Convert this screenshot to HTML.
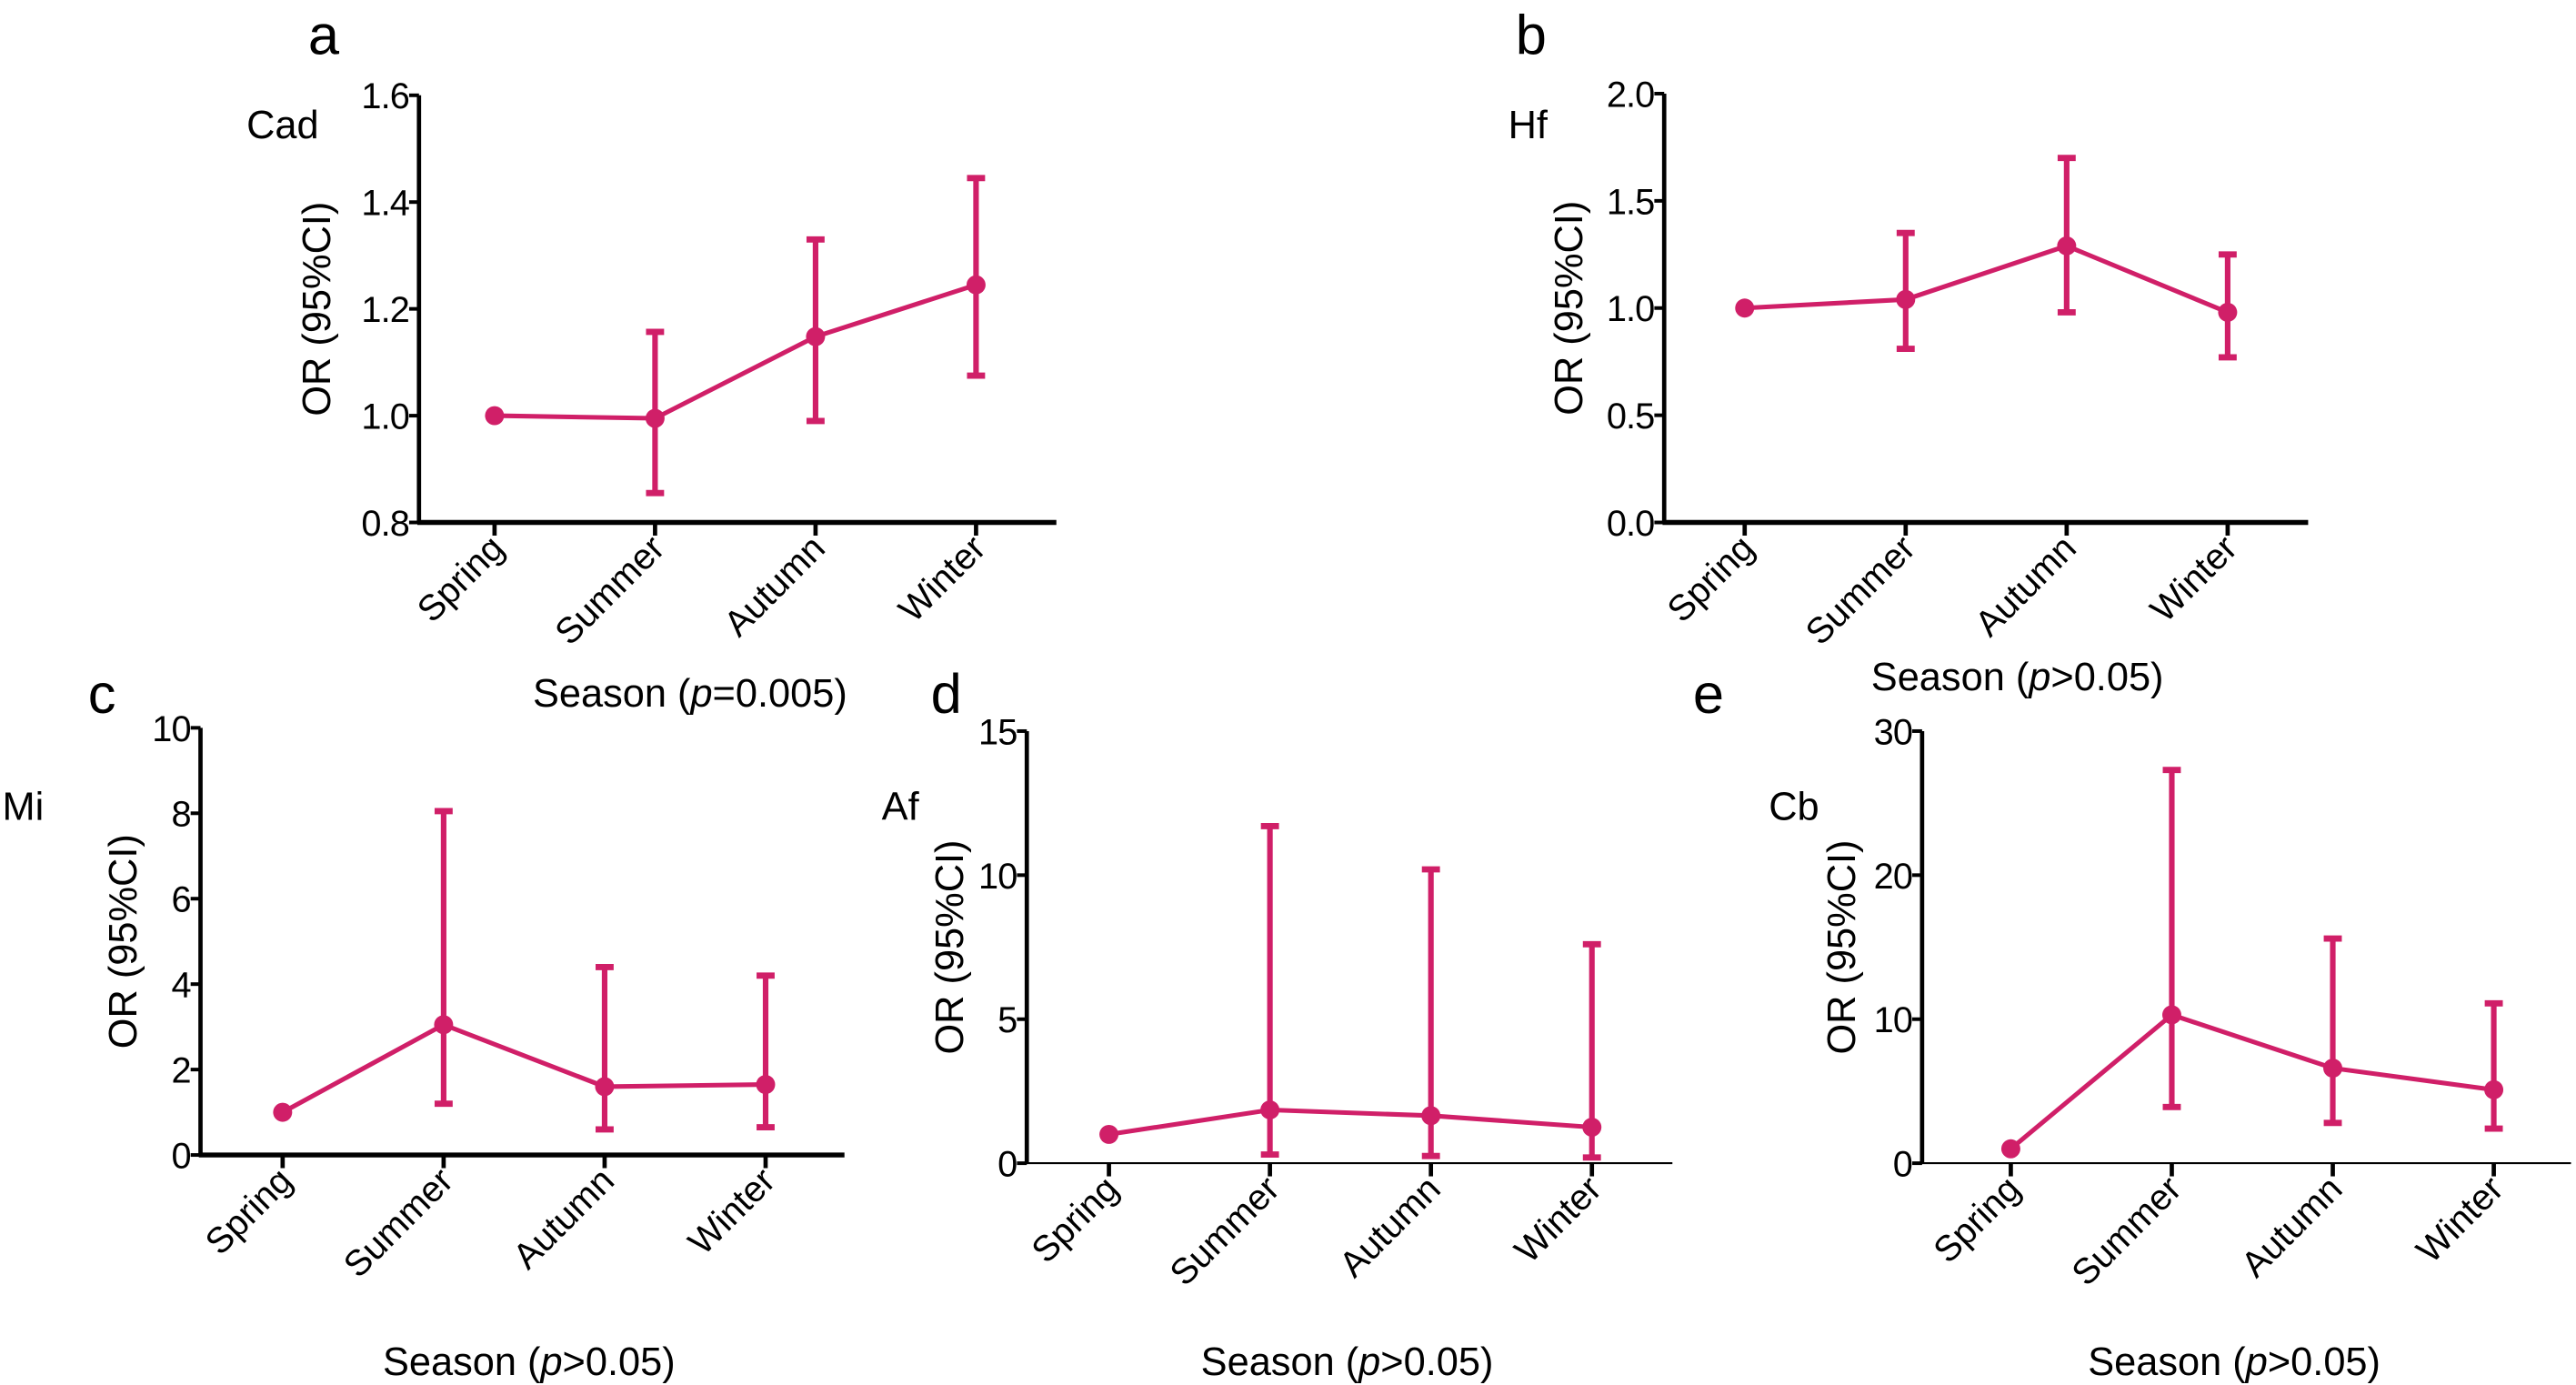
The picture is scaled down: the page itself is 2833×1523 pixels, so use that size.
<!DOCTYPE html>
<html><head><meta charset="utf-8"><style>
html,body{margin:0;padding:0;background:#fff}
svg{display:block}
text{font-family:"Liberation Sans",sans-serif;fill:#000}
</style></head><body>
<svg id="fig" width="2833" height="1523" viewBox="0 0 1568 843" xmlns="http://www.w3.org/2000/svg"></svg>
<script>
const categories = ["Spring","Summer","Autumn","Winter"];
const aVals = [1.0, 0.995, 1.148, 1.245];
const aLo = [1.0, 0.855, 0.99, 1.075];
const aHi = [1.0, 1.157, 1.33, 1.445];
const aTicks = [0.8, 1.0, 1.2, 1.4, 1.6];
const aTickLabels = ["0.8","1.0","1.2","1.4","1.6"];
const bVals = [1.0, 1.04, 1.29, 0.98];
const bLo = [1.0, 0.81, 0.98, 0.77];
const bHi = [1.0, 1.35, 1.70, 1.25];
const bTicks = [0, 0.5, 1.0, 1.5, 2.0];
const bTickLabels = ["0.0","0.5","1.0","1.5","2.0"];
const cVals = [1.0, 3.05, 1.6, 1.65];
const cLo = [1.0, 1.2, 0.6, 0.65];
const cHi = [1.0, 8.05, 4.4, 4.2];
const cTicks = [0, 2, 4, 6, 8, 10];
const cTickLabels = ["0","2","4","6","8","10"];
const dVals = [1.0, 1.85, 1.65, 1.25];
const dLo = [1.0, 0.3, 0.25, 0.2];
const dHi = [1.0, 11.7, 10.2, 7.6];
const dTicks = [0, 5, 10, 15];
const dTickLabels = ["0","5","10","15"];
const eVals = [1.0, 10.3, 6.6, 5.1];
const eLo = [1.0, 3.9, 2.8, 2.4];
const eHi = [1.0, 27.3, 15.6, 11.1];
const eTicks = [0, 10, 20, 30];
const eTickLabels = ["0","10","20","30"];

const NS = "http://www.w3.org/2000/svg";
const svg = document.getElementById("fig");
const COL = "#d01f68";
function mk(tag, attrs, parent, txt){
  const e = document.createElementNS(NS, tag);
  for (const k in attrs) e.setAttribute(k, attrs[k]);
  if (txt !== undefined) e.textContent = txt;
  (parent||svg).appendChild(e);
  return e;
}
function panel(p){
  const g = mk("g", {});
  
  
  const ymin = p.ticks[0], ymax = p.ticks[p.ticks.length-1];
  const yS = v => p.y0 - (v - ymin) / (ymax - ymin) * (p.y0 - p.y1);
  const xS = i => p.cx0 + i * p.dx;
  const ya = mk("line", {x1:p.ax, y1:p.y1, x2:p.ax, y2:p.y0, stroke:"#000", "stroke-width":2.6}, g);
  
  
  const xa = mk("line", {x1:p.ax-1, y1:p.y0, x2:p.xend, y2:p.y0, stroke:"#000", "stroke-width":p.xw||3}, g);
  
  
  p.ticks.forEach((t, i) => {
    const y = yS(t);
    mk("line", {x1:p.ax-6, y1:y, x2:p.ax, y2:y, stroke:"#000", "stroke-width":2.2}, g);
    const tl = mk("text", {x:p.ax-6, y:y+8, "text-anchor":"end", "font-size":22, "letter-spacing":-0.5}, g, p.tickLabels[i]);
    
    
  });
  categories.forEach((c, i) => {
    const x = xS(i);
    mk("line", {x1:x, y1:p.y0, x2:x, y2:p.y0+8, stroke:"#000", "stroke-width":2.6}, g);
    const tl = mk("text", {x:0, y:0, "text-anchor":"end", "font-size":22,
      transform:`translate(${x+7},${p.y0+17}) rotate(-45)`}, g, c);
    
    
  });
  const pts = p.vals.map((v, i) => xS(i) + "," + yS(v)).join(" ");
  const ln = mk("polyline", {points:pts, fill:"none", stroke:COL, "stroke-width":2.8}, g);
  
  
  p.vals.forEach((v, i) => {
    const x = xS(i);
    if (p.hi[i] !== p.lo[i]) {
      const eb = mk("g", {}, g);
      
      
      mk("line", {x1:x, y1:yS(p.lo[i]), x2:x, y2:yS(p.hi[i]), stroke:COL, "stroke-width":3.4}, eb);
      mk("line", {x1:x-5.5, y1:yS(p.lo[i]), x2:x+5.5, y2:yS(p.lo[i]), stroke:COL, "stroke-width":3.8}, eb);
      mk("line", {x1:x-5.5, y1:yS(p.hi[i]), x2:x+5.5, y2:yS(p.hi[i]), stroke:COL, "stroke-width":3.8}, eb);
    }
    const pt = mk("circle", {cx:x, cy:yS(v), r:5.8, fill:COL}, g);
    
    
  });
  const yt = mk("text", {x:0, y:0, "text-anchor":"middle", "font-size":24,
    transform:`translate(${p.ytx},${(p.y0+p.y1)/2}) rotate(-90)`}, g, "OR (95%CI)");
  
  
  const xt = mk("text", {x:p.xtx, y:p.xty, "text-anchor":"middle", "font-size":24}, g);
  
  
  mk("tspan", {}, xt, "Season (");
  mk("tspan", {"font-style":"italic"}, xt, "p");
  mk("tspan", {}, xt, p.pv + ")");
  const lt = mk("text", {x:p.lx, y:p.ly, "text-anchor":"middle", "font-size":34}, g, p.id);
  
  
  const nm = mk("text", {x:p.nx, y:p.ny, "text-anchor":"middle", "font-size":24}, g, p.name);
  
  
}
panel({id:"a", name:"Cad", vals:aVals, lo:aLo, hi:aHi, ticks:aTicks, tickLabels:aTickLabels,
  ax:255, y0:318, y1:58, xend:643, cx0:301, dx:97.7, ytx:201, xtx:420, xty:430, pv:"=0.005",
  lx:197, ly:33, nx:172, ny:84});
panel({id:"b", name:"Hf", vals:bVals, lo:bLo, hi:bHi, ticks:bTicks, tickLabels:bTickLabels,
  ax:1013, y0:318, y1:57, xend:1405, cx0:1062, dx:98, ytx:963, xtx:1228, xty:420, pv:">0.05",
  lx:932, ly:33, nx:930, ny:84});
panel({id:"c", name:"Mi", vals:cVals, lo:cLo, hi:cHi, ticks:cTicks, tickLabels:cTickLabels,
  ax:122, y0:703, y1:443, xend:514, cx0:172, dx:98, ytx:83, xtx:322, xty:837, pv:">0.05",
  lx:62, ly:434, nx:14, ny:499});
panel({id:"d", name:"Af", vals:dVals, lo:dLo, hi:dHi, ticks:dTicks, tickLabels:dTickLabels,
  ax:625, y0:708, y1:445, xend:1018, cx0:675, dx:98, ytx:586, xtx:820, xty:837, pv:">0.05", xw:1.2,
  lx:576, ly:434, nx:548, ny:499});
panel({id:"e", name:"Cb", vals:eVals, lo:eLo, hi:eHi, ticks:eTicks, tickLabels:eTickLabels,
  ax:1170, y0:708, y1:445, xend:1565, cx0:1224, dx:98, ytx:1129, xtx:1360, xty:837, pv:">0.05", xw:1.2,
  lx:1040, ly:434, nx:1092, ny:499});
</script>
</body></html>
